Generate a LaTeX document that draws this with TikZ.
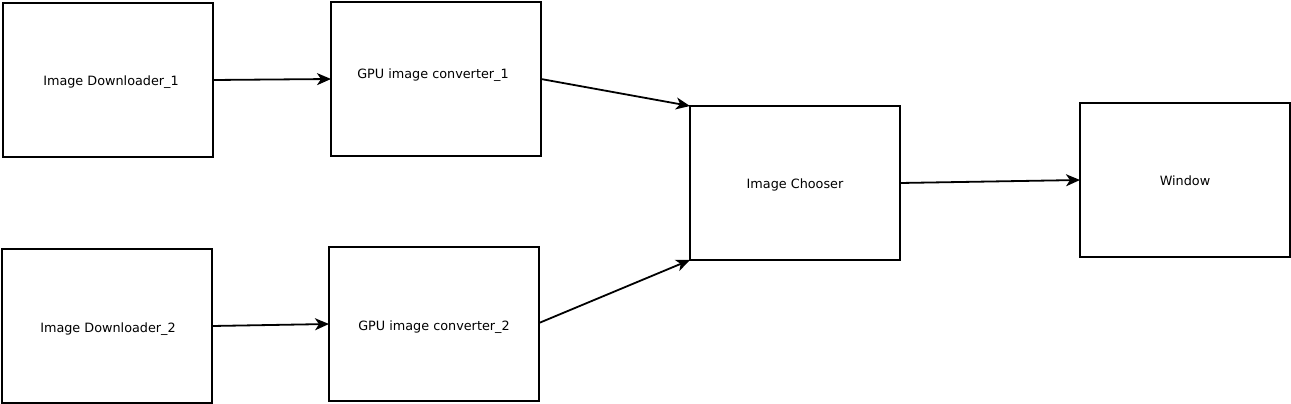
\documentclass[tikz,border=0pt]{standalone}
\usepackage{fontspec}
\setmainfont{DejaVu Sans}
\usetikzlibrary{arrows.meta}
\begin{document}
\begin{tikzpicture}[x=1pt,y=-1pt,
  blk/.style={draw=black,line width=2.1pt,fill=white},
  lbl/.style={font=\fontsize{12.8}{14}\selectfont,inner sep=0pt},
  conn/.style={draw=black,line width=1.8pt,-{Stealth[length=14pt,width=12pt,inset=4pt]}}]
\useasboundingbox (0,0) rectangle (1291,404);
\path[blk] (3,3) rectangle (213,157);
\path[blk] (331,2) rectangle (541,156);
\path[blk] (2,249) rectangle (212,403);
\path[blk] (329,247) rectangle (539,401);
\path[blk] (690,106) rectangle (900,260);
\path[blk] (1080,103) rectangle (1290,257);
\node[lbl] (t1) at (111,82) {Image Downloader\_1};
\node[lbl] (t2) at (433,75) {GPU image converter\_1};
\node[lbl] (t3) at (108,329) {Image Downloader\_2};
\node[lbl] (t4) at (434,327) {GPU image converter\_2};
\node[lbl] (t5) at (795,185) {Image Chooser};
\node[lbl] (t6) at (1185,181) {Window};
\coordinate (a1) at (213,80);
\coordinate (b1) at (331,79);
\coordinate (a2) at (541,79);
\coordinate (b2) at (690,106);
\coordinate (a3) at (212,326);
\coordinate (b3) at (329,324);
\coordinate (a4) at (539,323);
\coordinate (b4) at (690,260);
\coordinate (a5) at (900,183);
\coordinate (b5) at (1080,180);
\draw[conn] (a1) -- (b1);
\draw[conn] (a2) -- (b2);
\draw[conn] (a3) -- (b3);
\draw[conn] (a4) -- (b4);
\draw[conn] (a5) -- (b5);
\end{tikzpicture}
\end{document}
